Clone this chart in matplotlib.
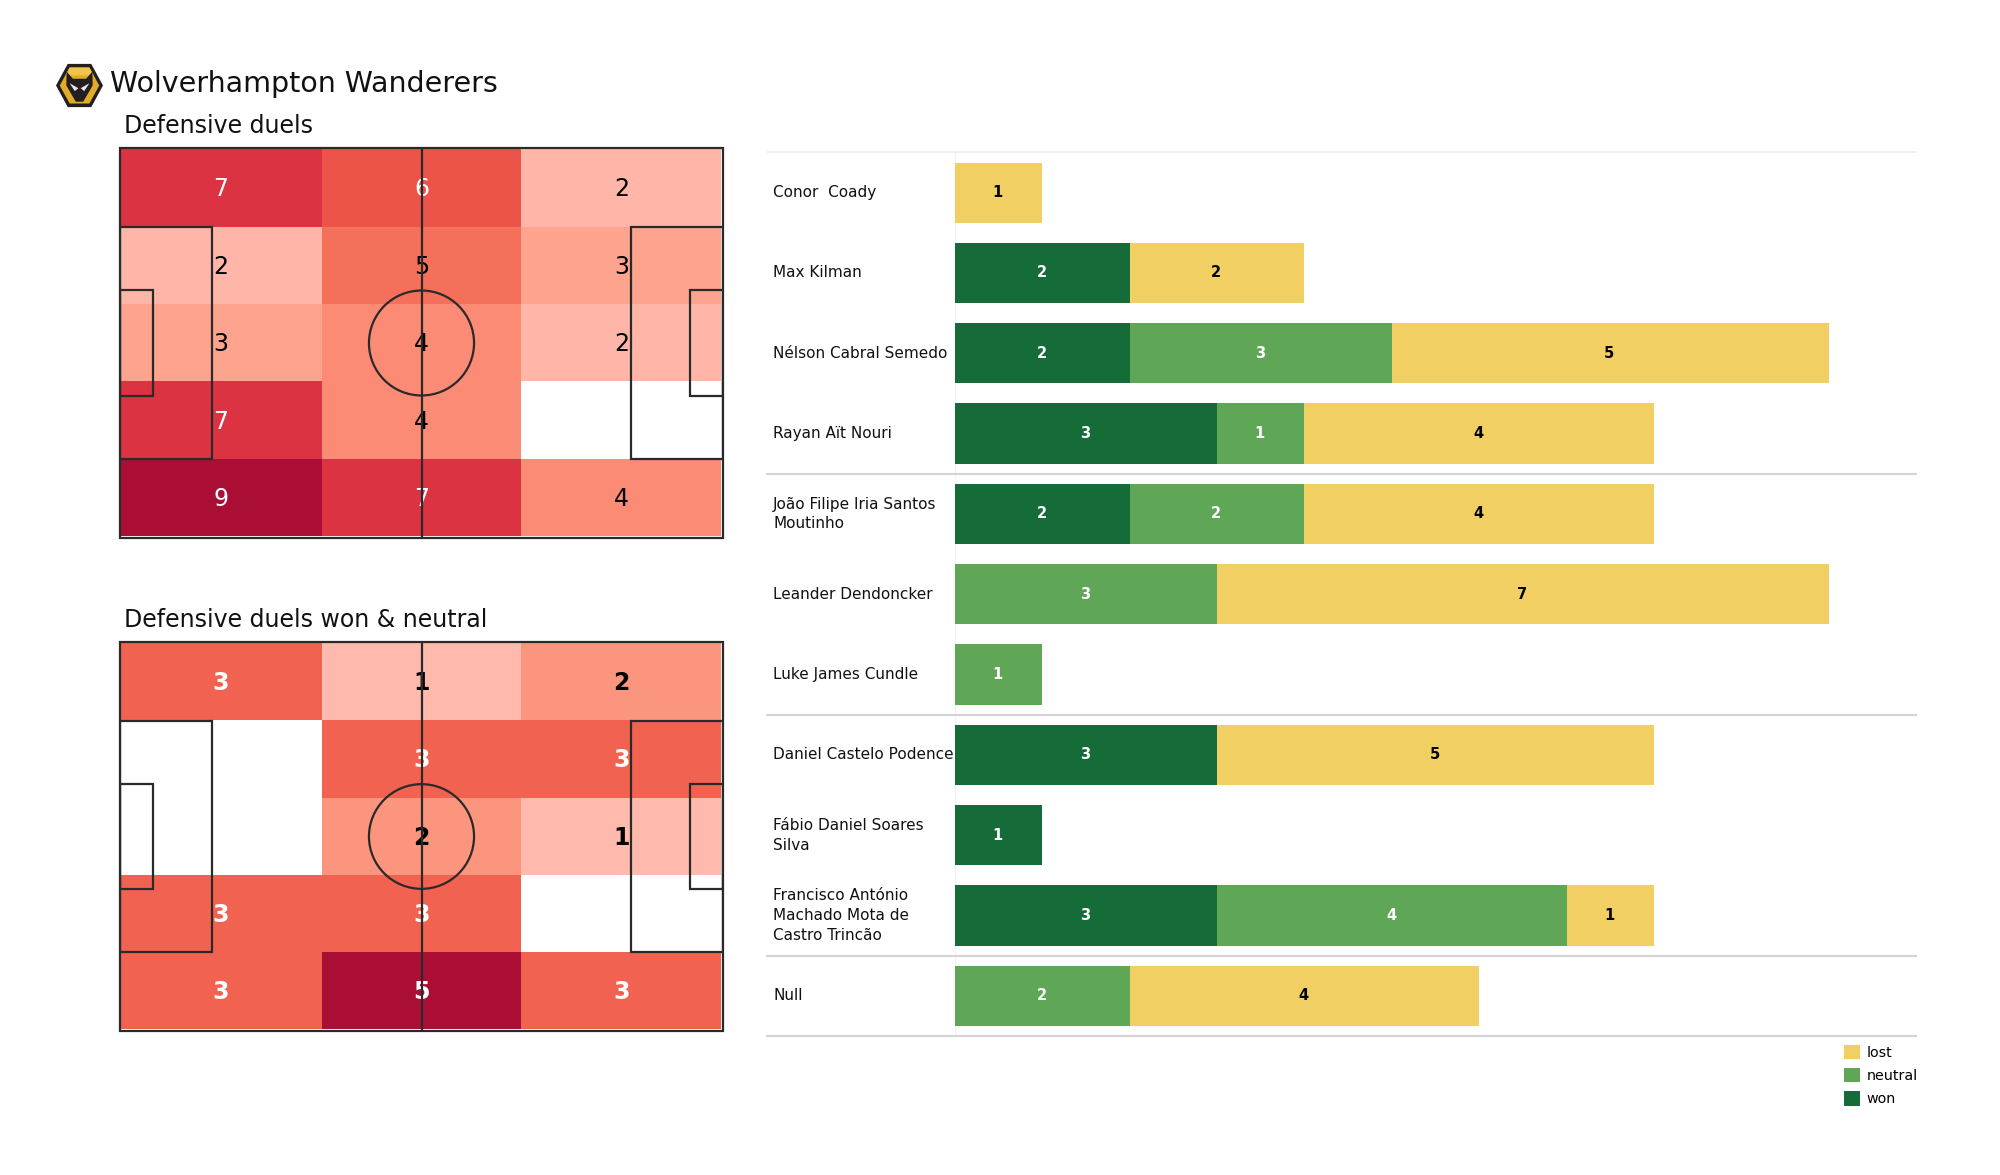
import numpy as np
import matplotlib
matplotlib.use("Agg")
import matplotlib.pyplot as plt
from matplotlib.colors import LinearSegmentedColormap
from matplotlib.patches import Circle, Polygon, Rectangle

W, H = 2000, 1175

team = "Wolverhampton Wanderers"

names = ["Conor  Coady", "Max Kilman", "Nélson Cabral Semedo", "Rayan Aït Nouri",
         "João Filipe Iria Santos\nMoutinho", "Leander Dendoncker", "Luke James Cundle",
         "Daniel Castelo Podence", "Fábio Daniel Soares\nSilva",
         "Francisco António\nMachado Mota de\nCastro Trincão", "Null"]
won = [0, 2, 2, 3, 2, 0, 0, 3, 1, 3, 0]
neutral = [0, 0, 3, 1, 2, 3, 1, 0, 0, 4, 2]
lost = [1, 2, 5, 4, 4, 7, 0, 5, 0, 1, 4]

duels = [[7, 6, 2],
         [2, 5, 3],
         [3, 4, 2],
         [7, 4, 0],
         [9, 7, 4]]
duels_won = [[3, 1, 2],
             [0, 3, 3],
             [0, 2, 1],
             [3, 3, 0],
             [3, 5, 3]]

GREEN = "#166c38"
MID = "#60a657"
YELLOW = "#f2cf63"

cmap = LinearSegmentedColormap.from_list("reds", [
    (0.0, "#ffd5cc"), (0.2, "#ffb9ad"), (0.3333, "#fda38e"), (0.4444, "#fb8b74"),
    (0.5556, "#f4705a"), (0.6, "#f26250"), (0.6667, "#ec5349"), (0.7778, "#dd3342"),
    (1.0, "#ab0e35")])


def box(x0, y0, x1, y1):
    # pixel box (from top left) to a new axes
    return fig.add_axes([x0 / W, 1 - y1 / H, (x1 - x0) / W, (y1 - y0) / H])


def draw_pitch(ax, data, weight):
    data = np.array(data)
    xs = np.array([0, 35.1, 69.9, 104.7])
    ys = np.linspace(0.2, 67.7, 6)
    ax.pcolormesh(xs, ys, np.ma.masked_equal(data, 0), cmap=cmap, vmin=0, vmax=data.max(),
                  zorder=1)
    for r in range(5):
        for c in range(3):
            v = data[r, c]
            if v == 0:
                continue
            col = "white" if v / data.max() > 0.58 else "black"
            ax.text((xs[c] + xs[c + 1]) / 2, (ys[r] + ys[r + 1]) / 2 + 0.25, str(v), color=col,
                    fontsize=17, fontweight=weight, ha="center", va="center", zorder=2)
    lw = 1.6
    line = "#2a2a2a"
    ax.add_patch(Rectangle((0, 0), 105, 68, fill=False, ec=line, lw=lw, zorder=3, clip_on=False))
    ax.plot([52.5, 52.5], [0, 68], color=line, lw=lw, zorder=3)
    ax.add_patch(Circle((52.5, 34), 9.15, fill=False, ec=line, lw=lw, zorder=3))
    for x, w in [(0, 16), (89, 16)]:
        ax.add_patch(Rectangle((x, 13.84), w, 40.32, fill=False, ec=line, lw=lw, zorder=3))
    for x, w in [(0, 5.7), (99.3, 5.7)]:
        ax.add_patch(Rectangle((x, 24.84), w, 18.32, fill=False, ec=line, lw=lw, zorder=3))
    ax.set_xlim(0, 105)
    ax.set_ylim(68, 0)
    ax.axis("off")


fig = plt.figure(figsize=(20, 11.75), dpi=100)

fig.text(110 / W, 1 - 84.5 / H, team, fontsize=20.5, ha="left", va="center", color="#111111")
fig.text(124 / W, 1 - 126 / H, "Defensive duels", fontsize=17, ha="left", va="center", color="#111111")
fig.text(124 / W, 1 - 620 / H, "Defensive duels won & neutral", fontsize=17, ha="left", va="center",
         color="#111111")

draw_pitch(box(120, 148, 723, 538), duels, "normal")
draw_pitch(box(120, 642, 723, 1031), duels_won, "bold")

# badge
logo = box(56, 63, 103, 108)
logo.set_xlim(-1, 1)
logo.set_ylim(-1, 1)
logo.axis("off")
logo.add_patch(Polygon([(-1, 0), (-0.5, 0.96), (0.5, 0.96), (1, 0), (0.5, -0.96), (-0.5, -0.96)],
                       fc="#231f20", ec="none"))
logo.add_patch(Polygon([(-0.84, 0), (-0.42, 0.8), (0.42, 0.8), (0.84, 0), (0.42, -0.8), (-0.42, -0.8)],
                       fc="#e0ad24", ec="none"))
logo.add_patch(Polygon([(-0.42, 0.8), (0.42, 0.8), (0.6, 0.45), (-0.6, 0.45)], fc="#f0c64a", ec="none"))
logo.add_patch(Polygon([(-0.55, 0.62), (-0.28, 0.3), (0.28, 0.3), (0.55, 0.62), (0.56, 0),
                        (0.16, -0.72), (-0.16, -0.72), (-0.56, 0)], fc="#231f20", ec="none"))
logo.add_patch(Polygon([(-0.42, 0.1), (-0.05, -0.12), (-0.2, -0.25)], fc="#e8e8e8", ec="none"))
logo.add_patch(Polygon([(0.42, 0.1), (0.05, -0.12), (0.2, -0.25)], fc="#e8e8e8", ec="none"))

# stacked bars
ax = box(955, 152.5, 1916, 1036)
y = np.arange(len(names))
won = np.array(won)
neutral = np.array(neutral)
lost = np.array(lost)
ax.barh(y, won, height=0.75, color=GREEN, label="won")
ax.barh(y, neutral, left=won, height=0.75, color=MID, label="neutral")
ax.barh(y, lost, left=won + neutral, height=0.75, color=YELLOW, label="lost")

for i in y:
    start = 0
    for v, col in [(won[i], "white"), (neutral[i], "white"), (lost[i], "black")]:
        if v > 0:
            ax.text(start + v / 2 - 0.01, i, str(v), color=col, fontsize=10.5, fontweight="bold",
                    ha="center", va="center")
        start += v
    ax.text(-2.08, i, names[i], fontsize=11, color="#111111", ha="left", va="center",
            linespacing=1.4)

ax.set_xlim(0, 11)
ax.set_ylim(10.5, -0.5)
ax.axis("off")

ax.plot([-2.15, 11], [-0.5, -0.5], color="#ececec", lw=1.2, clip_on=False)
for s in [3.5, 6.5, 9.5]:
    ax.plot([-2.15, 11], [s, s], color="#d4d4d4", lw=1.5, clip_on=False)
ax.plot([-2.15, 11], [10.5, 10.5], color="#d4d4d4", lw=1.5, clip_on=False)
ax.plot([0, 0], [-0.5, 10.5], color="#f2f2f2", lw=1, zorder=0)

h, l = ax.get_legend_handles_labels()
fig.legend(h[::-1], l[::-1], loc="upper left", bbox_to_anchor=(1838 / W, 1 - 1039 / H), frameon=False,
           fontsize=10.3, handlelength=1.16, handleheight=1.16, handletextpad=0.45, labelspacing=0.58,
           borderpad=0.4, borderaxespad=0)

fig.savefig("out.png", dpi=100)
